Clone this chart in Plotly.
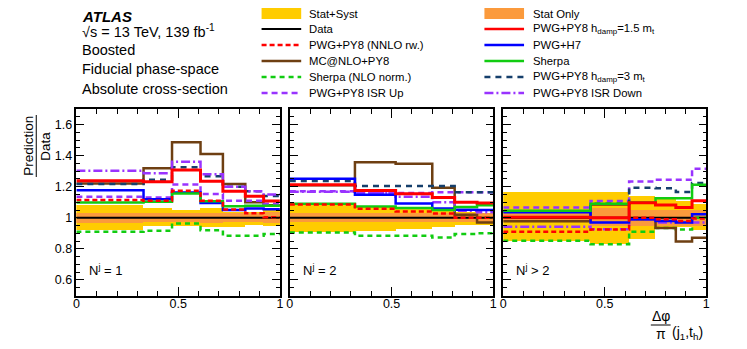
import plotly.graph_objects as go

# ---------------- data ----------------
edges_1 = [0, 0.33, 0.47, 0.61, 0.72, 0.83, 0.92, 1.0]
edges_2 = [0, 0.32, 0.52, 0.70, 0.81, 0.92, 1.0]
edges_3 = [0, 0.43, 0.62, 0.75, 0.85, 0.93, 1.0]

# Panel 1 : N^j = 1
p1_syst_hi = [1.085, 1.063, 1.050, 1.065, 1.040, 1.040, 1.055]
p1_syst_lo = [0.920, 0.945, 0.950, 0.940, 0.940, 0.955, 0.950]
p1_stat_hi = [1.032, 1.030, 1.030, 1.032, 1.030, 1.030, 1.035]
p1_stat_lo = [0.968, 0.970, 0.970, 0.968, 0.970, 0.970, 0.965]
p1_data = [1.0, 1.0, 1.0, 1.0, 1.0, 1.0, 1.0]
p1_nnlo = [1.114, 1.110, 1.174, 1.110, 1.054, 1.030, 1.003]
p1_mcnlo = [1.220, 1.319, 1.486, 1.410, 1.217, 1.100, 1.080]
p1_sherpa_nlo = [0.910, 0.916, 0.964, 0.920, 0.884, 0.884, 0.895]
p1_isr_up = [1.135, 1.130, 1.215, 1.153, 1.110, 1.110, 1.090]
p1_hdamp15 = [1.239, 1.232, 1.308, 1.235, 1.170, 1.139, 1.108]
p1_h7 = [1.178, 1.120, 1.163, 1.095, 1.050, 1.060, 1.055]
p1_sherpa = [1.098, 1.103, 1.157, 1.106, 1.074, 1.078, 1.077]
p1_hdamp3 = [1.217, 1.245, 1.325, 1.267, 1.200, 1.170, 1.140]
p1_isr_down = [1.303, 1.286, 1.361, 1.280, 1.200, 1.170, 1.150]

# Panel 2 : N^j = 2
p2_syst_hi = [1.095, 1.067, 1.065, 1.045, 1.040, 1.030]
p2_syst_lo = [0.910, 0.916, 0.930, 0.940, 0.955, 0.955]
p2_stat_hi = [1.030, 1.030, 1.030, 1.030, 1.030, 1.030]
p2_stat_lo = [0.970, 0.970, 0.970, 0.970, 0.970, 0.970]
p2_data = [1.0, 1.0, 1.0, 1.0, 1.0, 1.0]
p2_nnlo = [1.085, 1.058, 1.040, 1.028, 1.000, 1.000]
p2_mcnlo = [1.210, 1.357, 1.348, 1.193, 1.020, 0.970]
p2_sherpa_nlo = [0.906, 0.884, 0.884, 0.873, 0.895, 0.900]
p2_isr_up = [1.170, 1.160, 1.160, 1.165, 1.165, 1.165]
p2_hdamp15 = [1.212, 1.176, 1.155, 1.130, 1.100, 1.095]
p2_h7 = [1.252, 1.148, 1.092, 1.060, 1.052, 1.050]
p2_sherpa = [1.090, 1.073, 1.063, 1.050, 1.070, 1.080]
p2_hdamp3 = [1.236, 1.205, 1.205, 1.205, 1.165, 1.165]
p2_isr_down = [1.168, 1.158, 1.135, 1.100, 1.046, 1.036]

# Panel 3 : N^j > 2
p3_syst_hi = [1.165, 1.164, 1.142, 1.120, 1.110, 1.090]
p3_syst_lo = [0.852, 0.830, 0.863, 0.930, 0.940, 0.920]
p3_stat_hi = [1.030, 1.060, 1.050, 1.050, 1.050, 1.050]
p3_stat_lo = [0.970, 0.950, 0.950, 0.950, 0.950, 0.950]
p3_data = [1.0, 1.0, 1.0, 1.0, 1.0, 1.0]
p3_nnlo = [0.910, 0.925, 1.000, 0.990, 0.980, 0.995]
p3_mcnlo = [0.978, 1.085, 0.990, 0.935, 0.848, 0.872]
p3_sherpa_nlo = [0.852, 0.830, 0.910, 0.935, 0.925, 1.000]
p3_isr_up = [1.067, 1.108, 1.233, 1.244, 1.244, 1.316]
p3_hdamp15 = [1.004, 1.000, 1.097, 1.082, 1.067, 1.110]
p3_h7 = [1.035, 0.970, 0.990, 0.980, 0.970, 1.022]
p3_sherpa = [1.045, 1.090, 1.098, 1.125, 1.125, 1.212]
p3_hdamp3 = [1.040, 1.090, 1.193, 1.190, 1.166, 1.224]
p3_isr_down = [0.942, 0.927, 0.990, 0.970, 0.975, 0.970]

y_tickvals = [0.6, 0.8, 1.0, 1.2, 1.4, 1.6]
y_ticktext = ["0.6", "0.8", "1", "1.2", "1.4", "1.6"]
x_tickvals = [0, 0.5, 1]
x_ticktext = ["0", "0.5", "1"]
panel_labels = ["N<sup>j</sup> = 1", "N<sup>j</sup> = 2", "N<sup>j</sup> > 2"]

# ---------------- styles ----------------
PAGE_W, PAGE_H = 747, 349
OFF = 8                      # default page body margin
W, H = PAGE_W - 2 * OFF, PAGE_H - 2 * OFF
FONT = "Liberation Sans, Arial, Helvetica, sans-serif"
YELLOW = "#ffcc00"
ORANGE = "#fb9a3c"
RED = "#ff0000"
BROWN = "#6e3f12"
BLUE = "#0000ff"
GREEN = "#11cc11"
NAVY = "#153f6b"
PURPLE = "#9933ff"

styles = {
    "data": dict(color="black", width=2, dash="solid"),
    "nnlo": dict(color=RED, width=2.5, dash="5px,3px"),
    "mcnlo": dict(color=BROWN, width=2.5, dash="solid"),
    "sherpa_nlo": dict(color=GREEN, width=2.5, dash="5px,4px"),
    "isr_up": dict(color=PURPLE, width=2.5, dash="6px,4px"),
    "hdamp3": dict(color=NAVY, width=2.5, dash="6px,5px"),
    "isr_down": dict(color=PURPLE, width=2.5, dash="9px,3px,2px,3px"),
    "h7": dict(color=BLUE, width=2.5, dash="solid"),
    "sherpa": dict(color=GREEN, width=2.5, dash="solid"),
    "hdamp15": dict(color=RED, width=3, dash="solid"),
}

panels = [
    dict(edges=edges_1, syst=(p1_syst_lo, p1_syst_hi), stat=(p1_stat_lo, p1_stat_hi),
         series=dict(data=p1_data, sherpa_nlo=p1_sherpa_nlo, mcnlo=p1_mcnlo, isr_up=p1_isr_up,
                     hdamp3=p1_hdamp3, isr_down=p1_isr_down, h7=p1_h7, sherpa=p1_sherpa,
                     nnlo=p1_nnlo, hdamp15=p1_hdamp15)),
    dict(edges=edges_2, syst=(p2_syst_lo, p2_syst_hi), stat=(p2_stat_lo, p2_stat_hi),
         series=dict(data=p2_data, sherpa_nlo=p2_sherpa_nlo, mcnlo=p2_mcnlo, isr_up=p2_isr_up,
                     hdamp3=p2_hdamp3, isr_down=p2_isr_down, h7=p2_h7, sherpa=p2_sherpa,
                     nnlo=p2_nnlo, hdamp15=p2_hdamp15)),
    dict(edges=edges_3, syst=(p3_syst_lo, p3_syst_hi), stat=(p3_stat_lo, p3_stat_hi),
         series=dict(data=p3_data, sherpa_nlo=p3_sherpa_nlo, mcnlo=p3_mcnlo, isr_up=p3_isr_up,
                     hdamp3=p3_hdamp3, isr_down=p3_isr_down, h7=p3_h7, sherpa=p3_sherpa,
                     nnlo=p3_nnlo, hdamp15=p3_hdamp15)),
]

def px(x):
    return (x - OFF) / W

def py(y):
    return 1 - (y - OFF) / H

x_domains = [(px(74), px(279.5)), (px(289.5), px(495)), (px(505), px(710))]
y_domain = (py(295.5), py(109))

fig = go.Figure()

for i, p in enumerate(panels):
    xa = "x" if i == 0 else f"x{i+1}"
    ya = "y" if i == 0 else f"y{i+1}"
    e = p["edges"]
    centers = [(e[k] + e[k + 1]) / 2 for k in range(len(e) - 1)]
    widths = [e[k + 1] - e[k] for k in range(len(e) - 1)]
    for (lo, hi), col in [(p["syst"], YELLOW), (p["stat"], ORANGE)]:
        fig.add_trace(go.Bar(x=centers, width=widths, base=lo,
                             y=[h - l for l, h in zip(lo, hi)],
                             marker=dict(color=col, line=dict(width=0)),
                             xaxis=xa, yaxis=ya, showlegend=False, hoverinfo="skip"))
    for name, vals in p["series"].items():
        fig.add_trace(go.Scatter(x=e, y=list(vals) + [vals[-1]], mode="lines",
                                 line=dict(shape="hv", **styles[name]),
                                 xaxis=xa, yaxis=ya, showlegend=False, hoverinfo="skip"))

axis_common = dict(showline=True, linecolor="black", linewidth=1.5, mirror="allticks",
                   ticks="inside", tickcolor="black", tickwidth=1, showgrid=False,
                   zeroline=False, tickfont=dict(family=FONT, size=12.5, color="black"))

layout = dict(width=W, height=H, margin=dict(l=0, r=0, t=0, b=0),
              paper_bgcolor="white", plot_bgcolor="white", barmode="overlay",
              bargap=0, showlegend=False, font=dict(family=FONT, color="black"))
for i in range(3):
    xk = "xaxis" if i == 0 else f"xaxis{i+1}"
    yk = "yaxis" if i == 0 else f"yaxis{i+1}"
    xa = "x" if i == 0 else f"x{i+1}"
    ya = "y" if i == 0 else f"y{i+1}"
    layout[xk] = dict(axis_common, domain=list(x_domains[i]), range=[0, 1], anchor=ya,
                      tickvals=x_tickvals, ticktext=x_ticktext, ticklen=9,
                      ticklabelstandoff=-4,
                      minor=dict(ticks="inside", ticklen=5, tick0=0, dtick=0.1,
                                 tickcolor="black", tickwidth=1))
    layout[yk] = dict(axis_common, domain=list(y_domain), range=[0.5, 1.7], anchor=xa,
                      tickvals=y_tickvals, ticktext=y_ticktext, ticklen=8,
                      showticklabels=(i == 0),
                      minor=dict(ticks="inside", ticklen=4, tick0=0.5, dtick=0.05,
                                 tickcolor="black", tickwidth=1))
fig.update_layout(**layout)

annotations = []
shapes = []

def text(x, y, s, size=11.3, xanchor="left", **kw):
    annotations.append(dict(x=px(x), y=py(y), xref="paper", yref="paper", text=s,
                            showarrow=False, xanchor=xanchor, yanchor="middle",
                            font=dict(family=FONT, size=size, color="black"), **kw))

# ATLAS block
text(78, 17, "<b><i>ATLAS</i></b>", size=15)
text(78, 31, "√s = 13 TeV, 139 fb<sup>-1</sup>", size=14.5)
text(78, 49.5, "Boosted", size=14.5)
text(78, 69, "Fiducial phase-space", size=14.5)
text(78, 89, "Absolute cross-section", size=14.5)

# Panel labels
for i, lab in enumerate(panel_labels):
    x0 = [85, 301, 516][i]
    text(x0, 270, lab, size=13)

# Legend
rows = [13.5, 29, 45, 61, 77, 93]
col1 = [("box", YELLOW, "Stat+Syst"), ("data", None, "Data"),
        ("nnlo", None, "PWG+PY8 (NNLO rw.)"), ("mcnlo", None, "MC@NLO+PY8"),
        ("sherpa_nlo", None, "Sherpa (NLO norm.)"), ("isr_up", None, "PWG+PY8 ISR Up")]
col2 = [("box", ORANGE, "Stat Only"),
        ("hdamp15", None, "PWG+PY8 h<sub>damp</sub>=1.5 m<sub>t</sub>"),
        ("h7", None, "PWG+H7"), ("sherpa", None, "Sherpa"),
        ("hdamp3", None, "PWG+PY8 h<sub>damp</sub>=3 m<sub>t</sub>"),
        ("isr_down", None, "PWG+PY8 ISR Down")]
for (sx0, sx1, tx), col in [((261, 301, 307), col1), ((486, 526, 533), col2)]:
    for r, (kind, fillc, lab) in zip(rows, col):
        if kind == "box":
            shapes.append(dict(type="rect", xref="paper", yref="paper",
                               x0=px(sx0), x1=px(sx1), y0=py(r - 5.5), y1=py(r + 5.5),
                               fillcolor=fillc, line=dict(width=0)))
        else:
            st = styles[kind]
            shapes.append(dict(type="line", xref="paper", yref="paper",
                               x0=px(sx0), x1=px(sx1), y0=py(r), y1=py(r),
                               line=dict(color=st["color"], width=min(st["width"], 2.5),
                                         dash=st["dash"])))
        text(tx, r, lab, size=11.3)

# Y-axis title (fraction)
annotations.append(dict(x=px(25), y=py(146), xref="paper", yref="paper", text="Prediction",
                        showarrow=False, textangle=-90, xanchor="center", yanchor="middle",
                        font=dict(family=FONT, size=13.5, color="black")))
annotations.append(dict(x=px(42), y=py(146), xref="paper", yref="paper", text="Data",
                        showarrow=False, textangle=-90, xanchor="center", yanchor="middle",
                        font=dict(family=FONT, size=13.5, color="black")))
shapes.append(dict(type="line", xref="paper", yref="paper", x0=px(33.5), x1=px(33.5),
                   y0=py(115), y1=py(177), line=dict(color="black", width=1)))

# X-axis title
text(664, 316, "Δφ", size=14, xanchor="center")
shapes.append(dict(type="line", xref="paper", yref="paper", x0=px(654), x1=px(674),
                   y0=py(325), y1=py(325), line=dict(color="black", width=1)))
text(664, 334, "π", size=14, xanchor="center")
text(673, 333, "(j<sub>1</sub>,t<sub>h</sub>)", size=14)

fig.update_layout(annotations=annotations, shapes=shapes)
fig.write_html("out.html")
